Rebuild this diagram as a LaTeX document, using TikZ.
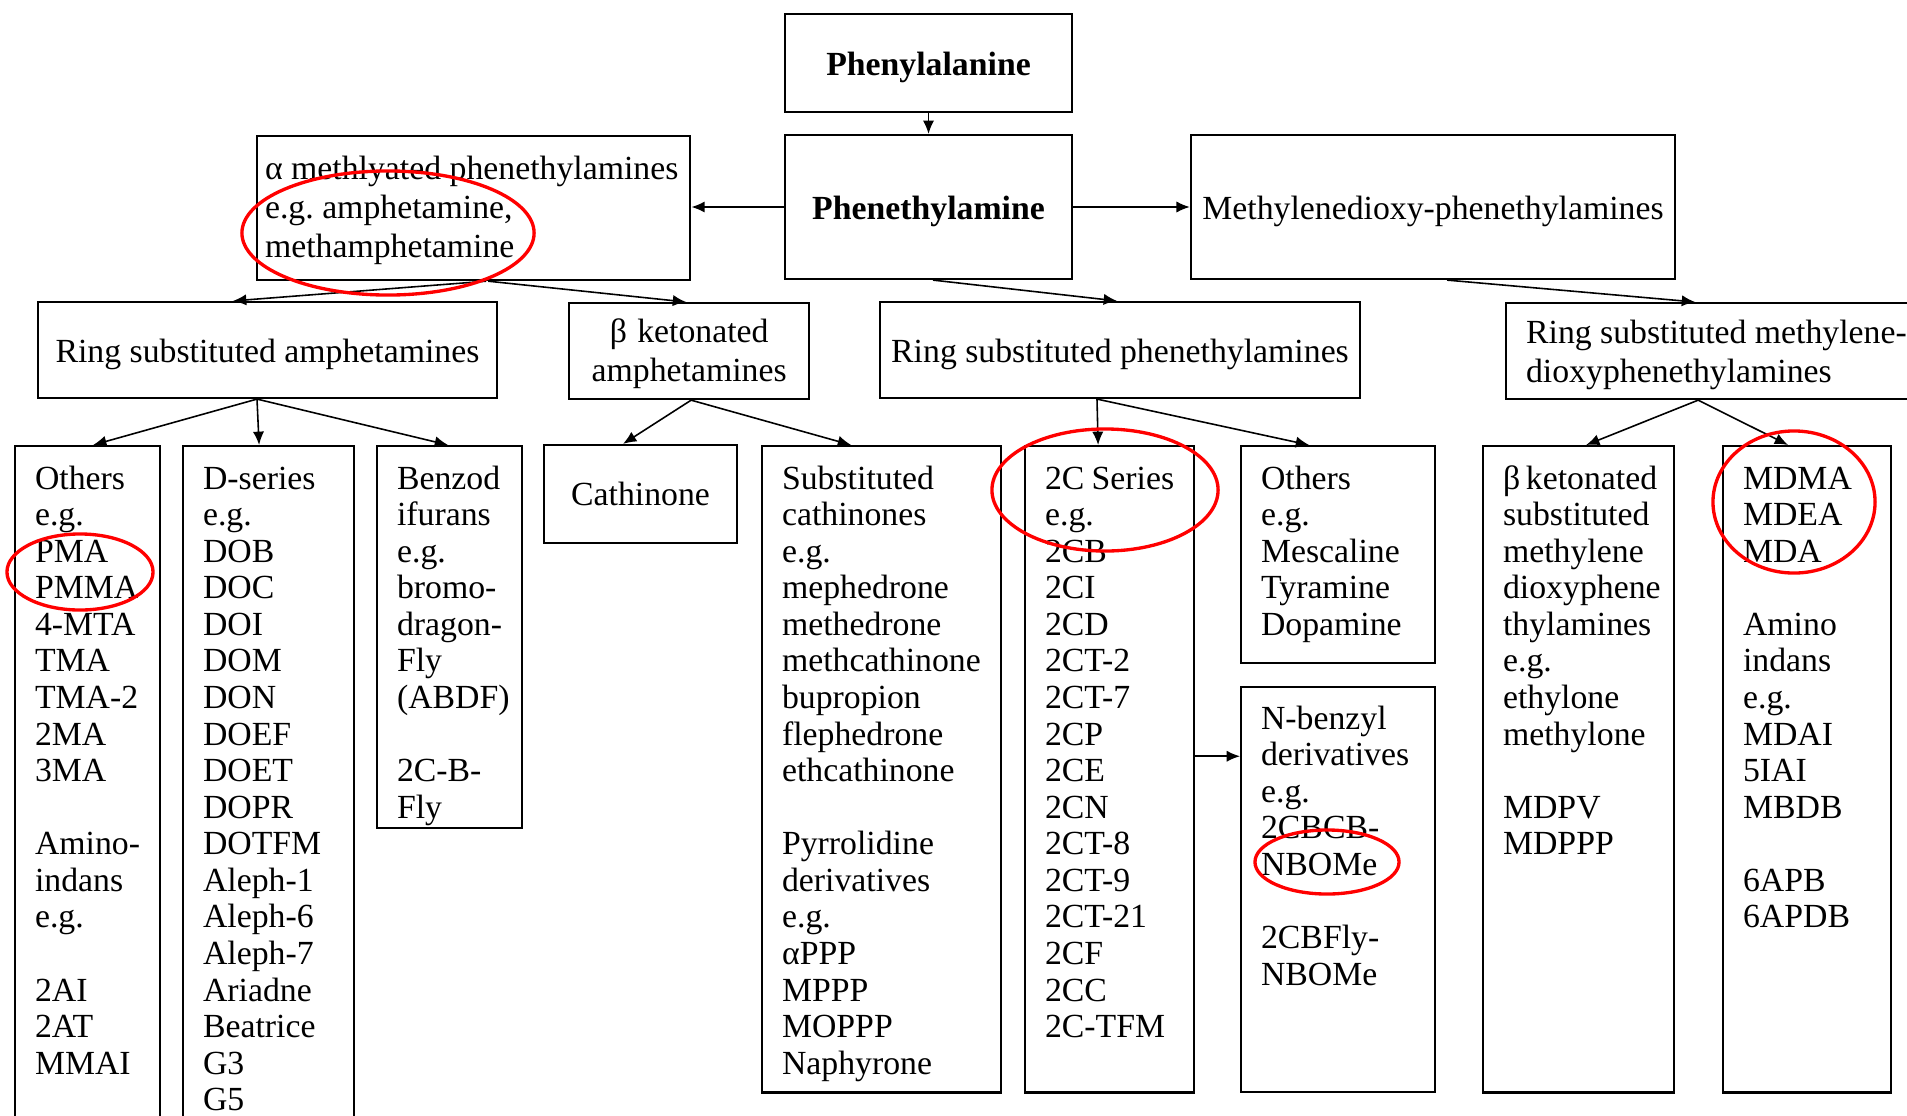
\documentclass[tikz,border=0pt]{standalone}
\usepackage{fontspec}
\setmainfont{Liberation Serif}
\usetikzlibrary{arrows.meta}
\hyphenpenalty=10000
\exhyphenpenalty=10000
\frenchspacing
\tikzset{
	box/.style={draw, line width=0.6pt, inner sep=0pt, execute at begin node={\spaceskip=0pt\xspaceskip=0pt\relax}},
	topbox/.style={box, align=center, text height=0.30cm, text depth=0.06cm, font=\fontsize{9.6}{11.2}\selectfont},
	boldbox/.style={topbox, font=\fontsize{9.6}{11.2}\selectfont\bfseries},
	multibox/.style={box, font=\fontsize{9.6}{11.2}\selectfont},
	listbox/.style={box, anchor=north west, align=left, inner xsep=0.2cm, text height=0.43cm, font=\fontsize{9.6}{10.4}\selectfont},
	arr/.style={-{Latex[length=3.8pt,width=3.2pt]}, line width=0.45pt},
	ring/.style={red, line width=0.95pt}
}
\begin{document}
\begin{tikzpicture}[x=0.01cm, y=-0.01cm]
			\useasboundingbox (0,0) rectangle (1907,1115);
			\clip (0,0) rectangle (1907,1115);
			\node[boldbox, minimum width=2.87cm, minimum height=0.98cm] (phe) at (928.5,63) {Phenylalanine};
			\node[boldbox, minimum width=2.87cm, minimum height=1.44cm] (pea) at (928.5,207) {Phenethylamine};
			\node[multibox, anchor=north west, align=left, inner xsep=0.08cm, text width=4.17cm, text height=0.43cm, text depth=1.01cm] (alpha) at (256,135) {α methlyated phenethylamines\\e.g. amphetamine,\\methamphetamine};
			\node[topbox, minimum width=4.84cm, minimum height=1.44cm] (mdpea) at (1433,207) {Methylenedioxy-phenethylamines};
			\node[topbox, minimum width=4.59cm, minimum height=0.96cm] (rsa) at (267.5,350) {Ring substituted amphetamines};
			\node[multibox, anchor=north west, align=center, inner xsep=0.1cm, text width=2.2cm, text height=0.39cm, text depth=0.57cm] (bka) at (568,302) {β ketonated\\amphetamines};
			\node[topbox, minimum width=4.80cm, minimum height=0.96cm] (rsp) at (1120,350) {Ring substituted phenethylamines};
			\node[multibox, anchor=north west, align=left, inner xsep=0.2cm, text width=4.0cm, text height=0.40cm, text depth=0.56cm] (rsmd) at (1505,302) {Ring substituted methylene-\\dioxyphenethylamines};
			\node[listbox, text width=1.05cm, text depth=6.42cm] (oth1) at (14,445) {Others\\e.g.\\PMA\\PMMA\\4-MTA\\TMA\\TMA-2\\2MA\\3MA\\~\\Amino-\\indans\\e.g.\\~\\2AI\\2AT\\MMAI};
			\node[listbox, text width=1.31cm, text depth=6.42cm] (dser) at (182,445) {D-series\\e.g.\\DOB\\DOC\\DOI\\DOM\\DON\\DOEF\\DOET\\DOPR\\DOTFM\\Aleph-1\\Aleph-6\\Aleph-7\\Ariadne\\Beatrice\\G3\\G5};
			\node[listbox, text width=1.05cm, text depth=3.39cm] (bzf) at (376,445) {Benzod\\ifurans\\e.g.\\bromo-\\dragon-\\Fly\\(ABDF)\\~\\2C-B-\\Fly};
			\node[box, font=\fontsize{9.6}{10.4}\selectfont, minimum width=1.93cm, minimum height=0.98cm] (cath) at (640.5,494) {Cathinone};
			\node[listbox, text width=1.99cm, text depth=6.03cm] (scath) at (761,445) {Substituted\\cathinones\\e.g.\\mephedrone\\methedrone\\methcathinone\\bupropion\\flephedrone\\ethcathinone\\~\\Pyrrolidine\\derivatives\\e.g.\\αPPP\\MPPP\\MOPPP\\Naphyrone};
			\node[listbox, text width=1.29cm, text depth=6.03cm] (twoc) at (1024,445) {2C~Series\\e.g.\\2CB\\2CI\\2CD\\2CT-2\\2CT-7\\2CP\\2CE\\2CN\\2CT-8\\2CT-9\\2CT-21\\2CF\\2CC\\2C-TFM};
			\node[listbox, text width=1.54cm, text depth=1.74cm] (oth2) at (1240,445) {Others\\e.g.\\Mescaline\\Tyramine\\Dopamine};
			\node[listbox, text width=1.54cm, text height=0.42cm, text depth=3.63cm] (nbz) at (1240,686) {N-benzyl\\derivatives\\e.g.\\2CBCB-\\NBOMe\\~\\2CBFly-\\NBOMe};
			\node[listbox, text width=1.51cm, text depth=6.03cm] (bkmd) at (1482,445) {β~ketonated\\substituted\\methylene\\dioxyphene\\thylamines\\e.g.\\ethylone\\methylone\\~\\MDPV\\MDPPP};
			\node[listbox, text width=1.28cm, text depth=6.03cm] (mdma) at (1722,445) {MDMA\\MDEA\\MDA\\~\\Amino\\indans\\e.g.\\MDAI\\5IAI\\MBDB\\~\\6APB\\6APDB};
			\draw[arr] (phe) -- (pea);
			\draw[arr] (pea.west) -- (pea.west -| alpha.east);
			\draw[arr] (pea) -- (mdpea);
			\draw[arr] ([xshift=0.125cm]alpha.south) -- ([xshift=-0.345cm]rsa.north);
			\draw[arr] ([xshift=0.145cm]alpha.south) -- ([xshift=-0.03cm]bka.north);
			\draw[arr] ([xshift=0.045cm]pea.south) -- ([xshift=-0.03cm]rsp.north);
			\draw[arr] ([xshift=0.14cm]mdpea.south) -- ([xshift=1.9cm]rsmd.north west);
			\foreach \t/\s in {oth1/0.055cm, dser/-0.095cm, bzf/-0.015cm}
			\draw[arr] ([xshift=-0.105cm]rsa.south) -- ([xshift=\s]\t.north);
			\foreach \t/\s in {cath/-0.175cm, scath/-0.305cm}
			\draw[arr] ([xshift=0.02cm]bka.south) -- ([xshift=\s]\t.north);
			\foreach \t/\s in {twoc/-0.115cm, oth2/-0.29cm}
			\draw[arr] ([xshift=-0.23cm]rsp.south) -- ([xshift=\s]\t.north);
			\draw[arr] ([yshift=0.13cm]twoc.east) coordinate (j) -- (j -| nbz.west);
			\foreach \t/\s in {bkmd/0.075cm, mdma/-0.19cm}
			\draw[arr] ([xshift=1.93cm]rsmd.south west) -- ([xshift=\s]\t.north);
			\foreach \cx/\cy/\rx/\ry in {388/233/1.46/0.62, 80/572/0.73/0.38, 1105/490/1.13/0.61, 1327/862/0.72/0.32, 1794/502/0.81/0.71}
			\draw[ring] (\cx,\cy) ellipse [x radius=\rx cm, y radius=\ry cm];
\end{tikzpicture}
\end{document}
